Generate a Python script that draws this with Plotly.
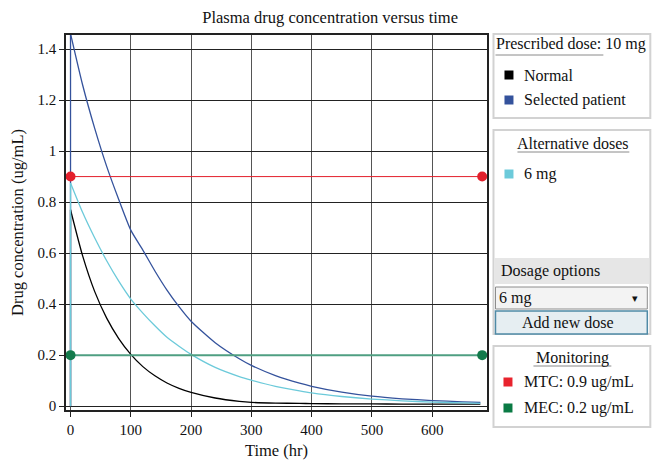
import plotly.graph_objects as go

# ---------------- data ----------------
# first point of every series is the dose given at t = 0 (concentration jumps from 0)
time_hr = [0, 0, 20, 40, 60, 80, 100, 120, 140, 160, 180, 200, 240, 280, 300,
           340, 380, 400, 450, 500, 550, 600, 650, 680]
normal_conc = [0, 0.77, 0.59, 0.45, 0.345, 0.265, 0.203, 0.155, 0.119, 0.091, 0.07,
               0.054, 0.032, 0.019, 0.015, 0.012, 0.011, 0.01, 0.009, 0.009, 0.008,
               0.008, 0.008, 0.008]
patient_conc = [0, 1.46, 1.26, 1.09, 0.94, 0.81, 0.69, 0.612, 0.53, 0.455, 0.39,
                0.333, 0.249, 0.186, 0.16, 0.12, 0.09, 0.078, 0.055, 0.039, 0.029,
                0.022, 0.017, 0.015]
alt_6mg_conc = [0, 0.875, 0.76, 0.66, 0.57, 0.49, 0.42, 0.365, 0.315, 0.27, 0.235,
                0.203, 0.152, 0.116, 0.102, 0.078, 0.06, 0.052, 0.038, 0.028, 0.021,
                0.016, 0.013, 0.011]

series_names = ["Normal", "Selected patient", "6 mg"]
series_colors = ["#000000", "#34529c", "#6ccada"]

monitor_names = ["MTC: 0.9 ug/mL", "MEC: 0.2 ug/mL"]
monitor_levels = [0.9, 0.2]
monitor_x = [0, 683]
monitor_line_colors = ["#e3202c", "#4f9f82"]
monitor_marker_colors = ["#e3202c", "#137a4b"]
monitor_line_widths = [1, 2]

x_ticks = [0, 100, 200, 300, 400, 500, 600]
y_ticks = [0, 0.2, 0.4, 0.6, 0.8, 1, 1.2, 1.4]
y_tick_text = ["0", "0.2", "0.4", "0.6", "0.8", "1", "1.2", "1.4"]

FONT = "Liberation Serif"

fig = go.Figure()
for name, ys, col in zip(series_names, [normal_conc, patient_conc, alt_6mg_conc], series_colors):
    # dose jump at t = 0
    fig.add_trace(go.Scatter(x=time_hr[:2], y=ys[:2], mode="lines", name=name,
                             line=dict(color=col, width=1.3), showlegend=False,
                             hoverinfo="skip"))
    # elimination curve
    fig.add_trace(go.Scatter(x=time_hr[1:], y=ys[1:], mode="lines", name=name,
                             line=dict(color=col, width=1.3, shape="spline", smoothing=0.6),
                             showlegend=False, hoverinfo="x+y"))
for name, lvl, lc, mc, lw in zip(monitor_names, monitor_levels, monitor_line_colors,
                                 monitor_marker_colors, monitor_line_widths):
    fig.add_trace(go.Scatter(x=monitor_x, y=[lvl, lvl], mode="lines+markers", name=name,
                             line=dict(color=lc, width=lw),
                             marker=dict(color=mc, size=10),
                             showlegend=False, cliponaxis=False))

# ---------------- layout ----------------
# page body has an 8px margin, so the figure is 16px smaller and offset by 8px
OFF = 8
W, H = 661 - 2 * OFF, 473 - 2 * OFF
# plot area in screen coordinates: x 66..487.5, y 35..410
SX0, SX1, SY0, SY1 = 66, 487.5, 35, 410
L, T = SX0 - OFF, SY0 - OFF
PW, PH = SX1 - SX0, SY1 - SY0
R = W - L - PW
B = H - T - PH


def px(x):
    return (x - SX0) / PW


def py(y):
    return (SY1 - y) / PH


fig.update_layout(
    width=W, height=H,
    margin=dict(l=L, r=R, t=T, b=B, autoexpand=False),
    paper_bgcolor="white", plot_bgcolor="white",
    font=dict(family=FONT, size=15, color="#111"),
    title=dict(text="Plasma drug concentration versus time", x=px(276.5), xanchor="center",
               y=1 - (17 - OFF) / H, yanchor="middle", font=dict(size=16.5, family=FONT, color="#111")),
    xaxis=dict(range=[-7.5, 691], tickvals=x_ticks, showgrid=True, gridcolor="#555",
               gridwidth=1, zeroline=False, showline=True, linecolor="#222", linewidth=1.5,
               mirror=True, ticks="outside", ticklen=5, tickcolor="#222",
               tickfont=dict(size=15),
               title=dict(text="Time (hr)", standoff=8, font=dict(size=16.5))),
    yaxis=dict(range=[-0.015, 1.455], tickvals=y_ticks, ticktext=y_tick_text, showgrid=True,
               gridcolor="#222", gridwidth=1, zeroline=False, showline=True, linecolor="#222",
               linewidth=1.5, mirror=True, ticks="outside", ticklen=5, tickcolor="#222",
               tickfont=dict(size=15),
               title=dict(text="Drug concentration (ug/mL)", standoff=10, font=dict(size=16.5))),
)

shapes = []
annotations = []


def box(x0, y0, x1, y1, line="#d2d2d2", fill=None, lw=2):
    shapes.append(dict(type="rect", xref="paper", yref="paper", x0=px(x0), x1=px(x1),
                       y0=py(y1), y1=py(y0), line=dict(color=line, width=lw),
                       fillcolor=fill, layer="above"))


def hline(x0, x1, y, color="#8a8a8a", lw=1):
    shapes.append(dict(type="line", xref="paper", yref="paper", x0=px(x0), x1=px(x1),
                       y0=py(y), y1=py(y), line=dict(color=color, width=lw)))


def text(x, y, s, anchor="left", size=16):
    annotations.append(dict(xref="paper", yref="paper", x=px(x), y=py(y), text=s,
                            showarrow=False, xanchor=anchor, yanchor="middle",
                            font=dict(family=FONT, size=size, color="#111")))


def square(x, y, color, s=9):
    shapes.append(dict(type="rect", xref="paper", yref="paper", x0=px(x - s / 2),
                       x1=px(x + s / 2), y0=py(y + s / 2), y1=py(y - s / 2),
                       line=dict(width=0), fillcolor=color))


# Panel 1: prescribed dose
box(494, 34, 651, 118)
text(495, 44, "Prescribed dose: 10 mg")
hline(496, 604, 55)
for i, (nm, col) in enumerate(zip(series_names[:2], series_colors[:2])):
    square(509.5, 75 + 25 * i, col)
    text(523, 75 + 25 * i, nm)

# Panel 2: alternative doses
box(494, 130, 651, 334)
text(574, 143, "Alternative doses", anchor="center")
hline(518, 630, 152)
square(509.5, 174, series_colors[2])
text(523, 174, series_names[2])
shapes.append(dict(type="rect", xref="paper", yref="paper", x0=px(495), x1=px(650),
                   y0=py(284), y1=py(258), line=dict(width=0), fillcolor="#e6e6e6"))
text(500, 271, "Dosage options")
box(496, 287, 648, 309, line="#8c8c8c", fill="#f3f3f3", lw=1)
text(498, 298, "6 mg")
text(636, 298, "▾", anchor="center", size=11)
box(496, 311, 648, 334, line="#4f8aa6", fill="#e6eef2", lw=1.5)
text(569, 322, "Add new dose", anchor="center")

# Panel 3: monitoring
box(494, 346, 651, 427)
text(573, 358, "Monitoring", anchor="center")
hline(534, 612, 366)
for i, (nm, col) in enumerate(zip(monitor_names, ["#e8232d", "#0a7a44"])):
    square(508.5, 382 + 26 * i, col)
    text(523, 382 + 26 * i, nm)

fig.update_layout(shapes=shapes, annotations=annotations)
fig.write_html("out.html")
